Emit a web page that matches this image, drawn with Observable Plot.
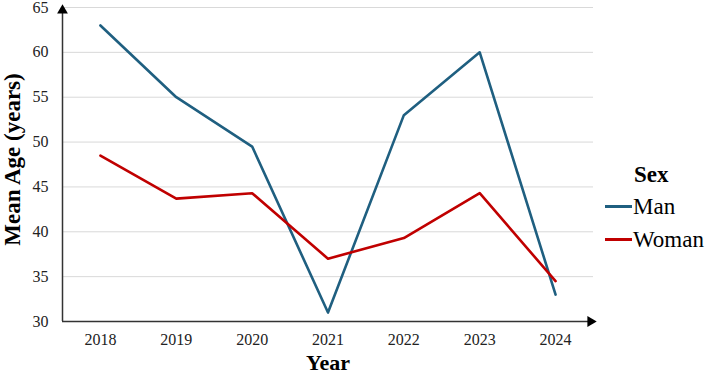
<!DOCTYPE html>
<html>
<head>
<meta charset="utf-8">
<script src="https://cdn.jsdelivr.net/npm/d3@7"></script>
<script src="https://cdn.jsdelivr.net/npm/@observablehq/plot@0.6"></script>
<style>
  html, body { margin: 0; padding: 0; background: #fff; }
  #wrap { position: relative; width: 709px; height: 383px; font-family: "Liberation Serif", "Tinos", "Times New Roman", "Noto Serif", "DejaVu Serif", serif; }
  #wrap svg, #wrap svg text { font-family: "Liberation Serif", "Tinos", "Times New Roman", "Noto Serif", "DejaVu Serif", serif !important; }
  #legend { position: absolute; left: 605px; top: 159px; color: #000; }
  #legend .title { font-weight: bold; font-size: 23px; margin-left: 29px; line-height: 31px; }
  #legend .item { display: flex; align-items: center; font-size: 23px; line-height: 33px; }
  #legend .swatch { width: 27px; height: 3px; margin-right: 1px; }
</style>
</head>
<body>
<div id="wrap"><div id="legend"></div></div>
<script>
const years = [2018, 2019, 2020, 2021, 2022, 2023, 2024];
const manAge = [63, 55, 49.5, 31, 53, 60, 33];
const womanAge = [48.5, 43.7, 44.3, 37, 39.3, 44.3, 34.5];
const sexes = ["Man", "Woman"];
const sexColors = ["#1f5f80", "#c00000"];
const yTicks = [30, 35, 40, 45, 50, 55, 60, 65];

const data = [
  ...years.map((y, i) => ({year: y, age: manAge[i], sex: "Man"})),
  ...years.map((y, i) => ({year: y, age: womanAge[i], sex: "Woman"}))
];

const xMin = 2017.5, xMax = 2024.5, yMin = 30, yMax = 65;
const serif = "'Liberation Serif', Tinos, 'Times New Roman', 'Noto Serif', 'DejaVu Serif', serif";

const chart = Plot.plot({
  width: 709,
  height: 383,
  marginLeft: 62,
  marginRight: 116,
  marginTop: 7,
  marginBottom: 62,
  style: {fontFamily: serif, fontSize: "16px", color: "#222", background: "#fff"},
  x: {domain: [xMin, xMax]},
  y: {domain: [yMin, yMax]},
  color: {domain: sexes, range: sexColors},
  marks: [
    Plot.gridY(yTicks.filter(t => t > yMin), {stroke: "#d9d9d9", strokeOpacity: 1, strokeWidth: 1}),
    Plot.axisY({ticks: yTicks, tickSize: 0, tickPadding: 14, label: null, tickFormat: d => d, fill: "#222", fontSize: 16}),
    Plot.axisX({ticks: years, tickSize: 0, tickPadding: 12, label: null, tickFormat: d => String(d), fill: "#222", fontSize: 16}),
    Plot.ruleY([yMin], {stroke: "#333", strokeWidth: 1.5}),
    Plot.ruleX([xMin], {stroke: "#333", strokeWidth: 1.5}),
    Plot.dot([{x: xMin, y: yMax}], {x: "x", y: "y", symbol: "triangle", r: 4, fill: "#000", stroke: null, dy: 3}),
    Plot.dot([{x: xMax, y: yMin}], {x: "x", y: "y", symbol: "triangle", r: 4, fill: "#000", stroke: null, rotate: 90, dx: -3}),
    Plot.line(data, {x: "year", y: "age", stroke: "sex", z: "sex", strokeWidth: 2.6}),
    Plot.text(["Year"], {frameAnchor: "bottom", dy: 48, text: d => d, fontWeight: "bold", fontSize: 22, fill: "#000"}),
    Plot.text(["Mean Age (years)"], {frameAnchor: "left", textAnchor: "middle", dx: -50, dy: -5, rotate: -90, text: d => d, fontWeight: "bold", fontSize: 23, fill: "#000"})
  ]
});

const wrap = document.getElementById("wrap");
wrap.insertBefore(chart, wrap.firstChild);

const legend = document.getElementById("legend");
const t = document.createElement("div");
t.className = "title";
t.textContent = "Sex";
legend.appendChild(t);
sexes.forEach((s, i) => {
  const it = document.createElement("div");
  it.className = "item";
  const sw = document.createElement("span");
  sw.className = "swatch";
  sw.style.background = sexColors[i];
  const lb = document.createElement("span");
  lb.textContent = s;
  it.appendChild(sw);
  it.appendChild(lb);
  legend.appendChild(it);
});
</script>
</body>
</html>
